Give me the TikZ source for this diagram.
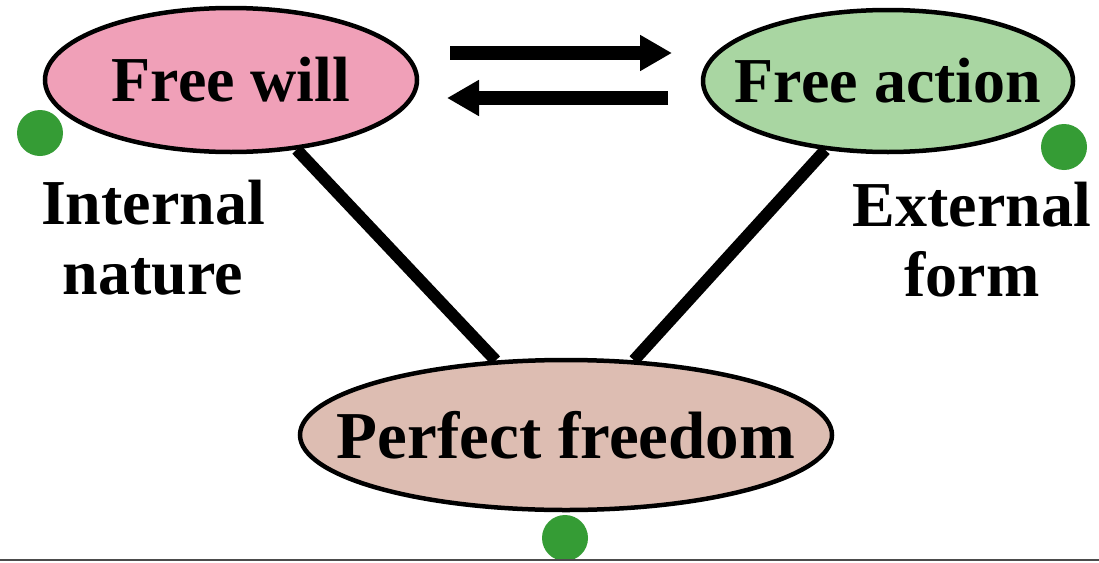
\documentclass[tikz,border=0pt]{standalone}
\usepackage{fontspec}
\setmainfont{Liberation Serif}
\usetikzlibrary{shapes.geometric,arrows.meta}
\definecolor{pinkfill}{HTML}{F0A0B8}
\definecolor{greenfill}{HTML}{A9D6A2}
\definecolor{tanfill}{HTML}{DDBDB2}
\definecolor{dotgreen}{HTML}{359C35}
\newcommand{\zw}[1]{\makebox[0pt]{#1}}
\tikzset{
  oval/.style={ellipse, draw=black, line width=4.5pt, inner sep=0pt,
    font=\fontsize{64}{70}\selectfont\bfseries},
  label text/.style={font=\fontsize{64}{70}\selectfont\bfseries, inner sep=0pt, align=center},
  link/.style={line width=12pt, black},
  flow/.style={line width=14pt, black, -{Triangle[length=32pt,width=34pt]}},
  dot/.style={circle, fill=dotgreen, minimum size=46pt, inner sep=0pt}
}
\begin{document}
\begin{tikzpicture}[x=1pt,y=-1pt]
\useasboundingbox (0,0) rectangle (1099,562);
\fill[white] (0,0) rectangle (1099,562);
\node[oval, fill=pinkfill, minimum width=372pt, minimum height=144pt] (fw) at (231,80) {\zw{Free will}};
\node[oval, fill=greenfill, minimum width=370pt, minimum height=142pt] (fa) at (888,81) {\zw{Free action}};
\node[oval, fill=tanfill, minimum width=532pt, minimum height=150pt, font=\fontsize{67}{72}\selectfont\bfseries] (pf) at (566,435) {\zw{Perfect freedom}};
\draw[link] (fw) -- (pf);
\draw[link] (fa) -- (pf);
\coordinate (a1s) at (450,53);
\coordinate (a1e) at (672,53);
\coordinate (a2s) at (668,98);
\coordinate (a2e) at (447,98);
\draw[flow] (a1s) -- (a1e);
\draw[flow] (a2s) -- (a2e);
\node[label text] (inl) at (153,238) {Internal\\nature};
\node[label text] (exl) at (972,240) {External\\form};
\node[dot] (d1) at (40,133) {};
\node[dot] (d2) at (1064,147) {};
\begin{scope}
\clip (0,0) rectangle (1099,559);
\node[dot] (d3) at (565,538) {};
\end{scope}
\draw[line width=2pt, black!70] (0,560) -- (1099,560);
\end{tikzpicture}
\end{document}
